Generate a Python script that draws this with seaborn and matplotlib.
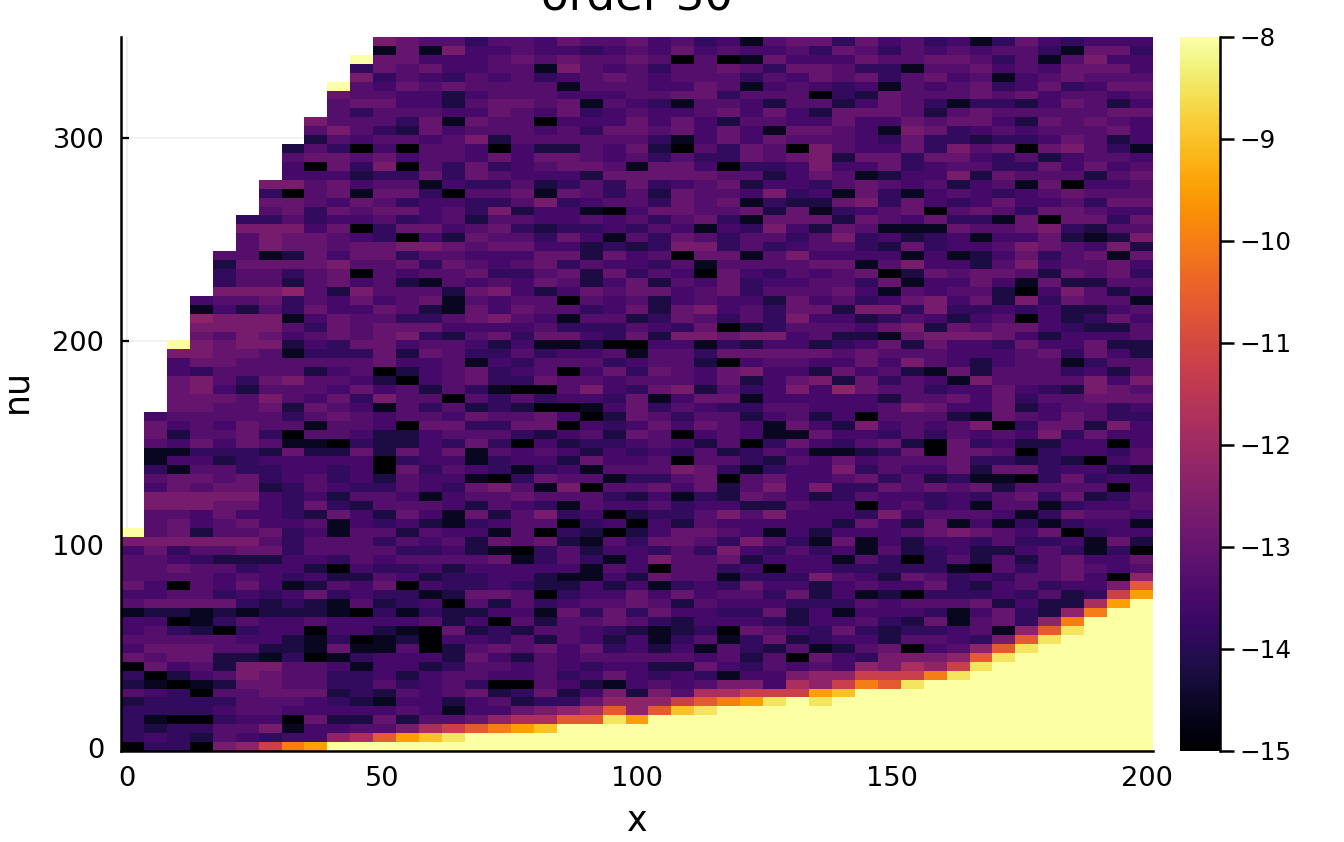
import numpy as np
import pandas as pd
import seaborn as sns
import matplotlib.pyplot as plt

# colour levels, one character per cell, "." is an empty cell
levels = {'0': -15, '1': -14.6, '2': -14.2, '3': -13.85, '4': -13.55, '5': -13.3,
          '6': -13.0, '7': -12.7, '8': -12.3, '9': -11.8, 'a': -11.2, 'b': -10.6,
          'c': -10.0, 'd': -9.5, 'e': -9.0, 'f': -8.5, 'g': -8.0, '.': np.nan}

# rows from top of the plot to the bottom, bottom rows are filled up with yellow
rows = [
    "...........7655355465564534156636453413643444",
    "...........1617445443454645445365354545531663",
    "..........g6644456565565050164446556653515744",
    "..........36564455175453556536653315564546664",
    "..........73543545345654555354656356451456555",
    ".........g54656555515554465145434154563463466",
    ".........655442455544455663555032655565645545",
    ".........566442566561543155425524653133246524",
    ".........535554465463454456464266652565555566",
    "........7555361655044464642554464465664265654",
    "........5753264555453665646416654176345455564",
    "........2545545725555553146465554363323346524",
    ".......25304055404225462053650754463756067531",
    ".......56656455464665453533656726636643524554",
    ".......40637053634566516640334744634553364645",
    ".......44423363654442666665524651244726555256",
    "......775645514335235363456244356545245160445",
    "......305616630556165352655473416314543456555",
    "......665465344335734553656132267364346445366",
    "......563656645372441046655626134560565366544",
    ".....3353445345255445453563166626546331606636",
    ".....7774603664563233435414374265111655673255",
    ".....5766543042655364153653553573423414462127",
    ".....5766566776566442323773534553263445765472",
    "....55126466355444662645066157444414124635616",
    "....26666755636545635443515555661574425745564",
    "....35535605455633562635406435456026566526563",
    "....35525645215454652462546344553614464162255",
    "....77785275552674246566456355564154552047524",
    "...455635464561545505452454426453467462736551",
    "...142536446521646553462674536627737334342245",
    "...877714655335675415523653537442354245042364",
    "...777753656664444533354360235554672656643225",
    "...657645656732563664362776774522167776424445",
    "..g767724366455424112004413244234626443644622",
    "..7766513336265335344515536666656555444563642",
    "..4665555556445143555345520455446475424551355",
    "..4355552450245634504636546744264521625553425",
    "..6753675542045633655455546246726354175555747",
    "..6742555464525310057436725347486553446432765",
    "..6665754637550535344361466144444255646355666",
    "..6655626541535232001463543355444576446245534",
    ".45555535654554655640265355245240555216546533",
    ".64546551554066336604346465416427454570366274",
    ".62556305542245553245265045411644353545473644",
    ".54646511032243630423345425036435620634224404",
    ".11333262262646154542434352354112360665034435",
    ".14423444440344134426445055325464555633232045",
    ".31553344340635431341555763134473544626634421",
    ".56656345342544103655133560564456352311036344",
    ".46566235433543675170556462574733656562555504",
    ".77777434255414556555324132654235443435636235",
    ".77766436325554254315445344225440453415513445",
    ".55464432642641625734023357574443745554136554",
    ".56456445143421345503404254444426426141313441",
    "g56255634155254415032024665414244456765460344",
    "777777535553545265621536653753161424435334162",
    "463556635555334210352443537435341523422453130",
    "554322244354555561353147556244415303525256446",
    "556553442043342444441540553404433333105356545",
    "555545434225423344211426551333754265343556408",
    "64054641254604334322424134364424544632453447b",
    "4455343463433126650344646455362412033343523ad",
    "5666632321523405253455652544433354555624229dg",
    "122121222103132244163636443362414443146328cgg",
    "44013544544445240525565324443244532615638cggg",
    "4532034404421062325543212306543632334518bfggg",
    "555554421301204435254241351362344255437bfgggg",
    "46665522161150256564634241532512560458bfggggg",
    "6566221301344426425455555452506437778bfgggggg",
    "064527755414423554543442264354548798afgggggggg",
    "30245765533424554453464343144788aaacfggggggg",
    "2101266553353453005421454577498acbfgggggggggg",
    "543055666232545623624727599aaadeg",
    "233335554321442452336888abcdfgfg",
    "333345544444541446789b8befg",
    "3100344062262556899bbfdg",
    "32335571445579abcdeg",
    "34325434489bdefg",
    "033078acdg",
]

x_ticks = [0, 50, 100, 150, 200]
y_ticks = [0, 100, 200, 300]
cbar_ticks = [-15, -14, -13, -12, -11, -10, -9, -8]

title = 'order 30'

n_cols = 45
grid = [[levels[c] for c in (r + 'g' * n_cols)[:n_cols]] for r in rows]
df = pd.DataFrame(grid)

fig = plt.figure(figsize=(13.44, 8.42), dpi=100)
ax = fig.add_axes([121 / 1344, 1 - 751 / 842, 1032 / 1344, 714 / 842])
cax = fig.add_axes([1180 / 1344, 1 - 751 / 842, 40 / 1344, 714 / 842])

sns.heatmap(df, ax=ax, cbar_ax=cax, cmap='inferno', vmin=-15, vmax=-8,
            xticklabels=False, yticklabels=False)

# ticks sit on the data scale, which is not the cell scale of the heatmap
cell_w = 1032 / n_cols
cell_h = 714 / len(rows)
ax.set_xticks([(v * 5.1 + 6) / cell_w for v in x_ticks], [str(v) for v in x_ticks], rotation=0)
ax.set_yticks([(711 - v * 2.033) / cell_h for v in y_ticks], [str(v) for v in y_ticks], rotation=0)
ax.tick_params(direction='in', length=6, width=1.6, color='black', labelsize=19.6, pad=12)
ax.tick_params(axis='x', pad=11)
ax.set_axisbelow(True)
ax.grid(True, color='#efefef', lw=1.2)

for side in ['left', 'bottom']:
    ax.spines[side].set_visible(True)
    ax.spines[side].set_linewidth(1.8)
    ax.spines[side].set_color('black')

ax.set_title(title, fontsize=32.4, y=1.0385, pad=0)
ax.set_xlabel('x', fontsize=25)
ax.set_ylabel('nu', fontsize=25)
ax.xaxis.set_label_coords(0.5, -0.074)
ax.yaxis.set_label_coords(-0.0845, 0.504)

cbar = ax.collections[0].colorbar
cbar.set_ticks(cbar_ticks, labels=['\u2212' + str(abs(v)) for v in cbar_ticks])
cbar.outline.set_visible(False)
cax.spines['right'].set_visible(True)
cax.spines['right'].set_linewidth(1.8)
cax.tick_params(length=10, width=1.8, labelsize=17.7, pad=4)

fig.savefig('out.png', dpi=100)
